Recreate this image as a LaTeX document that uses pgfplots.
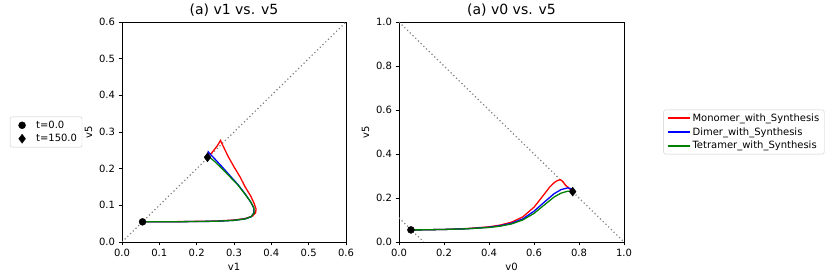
\documentclass[border=0pt]{standalone}
\usepackage{fontspec}
\setmainfont{DejaVu Sans}
\usepackage{pgfplots}
\pgfplotsset{compat=1.18}
\definecolor{mplgreen}{RGB}{0,128,0}
\pgfplotsset{
  myax/.style={
    scale only axis,
    axis line style={line width=0.8pt},
    tick align=outside, major tick length=3.5pt,
    tick style={line width=0.8pt, black},
    xtick pos=bottom, ytick pos=left,
    ticklabel style={font=\fontsize{10}{12}\selectfont},
    label style={font=\fontsize{10}{12}\selectfont},
    title style={font=\fontsize{14}{16}\selectfont, yshift=-4pt},
    /pgf/number format/assume math mode=true,
    /pgf/number format/.cd, fixed, fixed zerofill, precision=1, /pgfplots/.cd,
    legend style={draw=black!20, rounded corners=2pt, font=\fontsize{10}{12}\selectfont,
      inner xsep=3pt, inner ysep=2pt, row sep=0.5pt},
    legend cell align=left,
    clip=true,
  },
  dotl/.style={gray, line width=1.2pt, dash pattern=on 1.2pt off 2.6pt},
  crv/.style={line width=1.3pt, no marks,
    legend image code/.code={\draw[mark repeat=2,mark phase=2,##1, line width=1.9pt] plot coordinates {(0pt,0pt) (11pt,0pt) (22pt,0pt)};}},
  mk/.style={only marks, black,
    legend image code/.code={\path[draw=none,fill=none] (0pt,0pt) -- (21pt,0pt); \draw[##1] plot coordinates {(9pt,0pt)};}},
}
\begin{document}
\begin{tikzpicture}
\useasboundingbox (0,0) rectangle (832pt,280pt);
\begin{axis}[myax, at={(122pt,38pt)}, anchor=south west, width=224pt, height=220pt,
  xmin=0, xmax=0.6, ymin=0, ymax=0.6,
  xtick={0,0.1,...,0.61}, ytick={0,0.1,...,0.61},
  xlabel={v1}, ylabel={v5}, title={(a) v1 vs. v5},
  legend style={at={(-0.339,0.5)}, anchor=center},
]
\addplot[dotl, forget plot] coordinates {(0,0) (0.6,0.6)};
\addplot[crv, red, forget plot] coordinates {
(0.055,0.055) (0.15,0.0555) (0.25,0.057) (0.3,0.060) (0.33,0.064) (0.35,0.071)
(0.358,0.080) (0.359,0.090) (0.354,0.105) (0.345,0.125) (0.33,0.150) (0.316,0.178)
(0.30,0.205) (0.285,0.232) (0.274,0.255) (0.267,0.270) (0.264,0.277) (0.255,0.262)
(0.245,0.249) (0.235,0.237)};
\addplot[crv, blue, forget plot] coordinates {
(0.055,0.055) (0.15,0.0553) (0.25,0.0565) (0.30,0.059) (0.33,0.063) (0.346,0.069)
(0.353,0.079) (0.353,0.092) (0.346,0.107) (0.332,0.128) (0.312,0.155) (0.29,0.180)
(0.27,0.203) (0.25,0.225) (0.236,0.240) (0.231,0.246) (0.229,0.235)};
\addplot[crv, mplgreen, forget plot] coordinates {
(0.055,0.055) (0.15,0.0553) (0.25,0.0565) (0.30,0.059) (0.33,0.063) (0.346,0.069)
(0.354,0.080) (0.353,0.094) (0.345,0.109) (0.330,0.130) (0.310,0.156) (0.29,0.177)
(0.27,0.198) (0.25,0.218) (0.236,0.230) (0.229,0.231)};
\addplot[mk, mark=*, mark size=3.5pt] coordinates {(0.055,0.055)};
\addlegendentry{t=0.0}
\addplot[mk, mark=diamond*, mark size=4.5pt] coordinates {(0.229,0.231)};
\addlegendentry{t=150.0}
\end{axis}
\begin{axis}[myax, at={(399pt,38pt)}, anchor=south west, width=225pt, height=220pt,
  xmin=0, xmax=1, ymin=0, ymax=1,
  xtick={0,0.2,...,1.01}, ytick={0,0.2,...,1.01},
  xlabel={v0}, ylabel={v5}, title={(a) v0 vs. v5},
  legend style={at={(1.533,0.5)}, anchor=center},
]
\addplot[dotl, forget plot] coordinates {(0,1) (1,0)};
\addplot[dotl, forget plot] coordinates {(0,0.11) (0.11,0)};
\addplot[crv, red] coordinates {
(0.053,0.055) (0.1,0.0552) (0.2,0.057) (0.3,0.061) (0.4,0.069) (0.45,0.077) (0.5,0.090)
(0.55,0.114) (0.6,0.158) (0.64,0.210) (0.67,0.250) (0.69,0.270) (0.705,0.280) (0.718,0.283)
(0.728,0.275) (0.74,0.258) (0.755,0.245) (0.772,0.229)};
\addlegendentry{Monomer\_with\_Synthesis}
\addplot[crv, blue] coordinates {
(0.053,0.055) (0.1,0.0552) (0.2,0.057) (0.3,0.060) (0.4,0.067) (0.45,0.074) (0.5,0.085)
(0.55,0.105) (0.6,0.140) (0.65,0.185) (0.69,0.220) (0.72,0.238) (0.75,0.246) (0.762,0.243) (0.772,0.232)};
\addlegendentry{Dimer\_with\_Synthesis}
\addplot[crv, mplgreen] coordinates {
(0.053,0.055) (0.1,0.0552) (0.2,0.057) (0.3,0.060) (0.4,0.066) (0.45,0.072) (0.5,0.082)
(0.55,0.100) (0.6,0.130) (0.65,0.172) (0.69,0.205) (0.72,0.222) (0.75,0.231) (0.772,0.230)};
\addlegendentry{Tetramer\_with\_Synthesis}
\addplot[only marks, mark=*, mark size=3.5pt, black, forget plot] coordinates {(0.053,0.055)};
\addplot[only marks, mark=diamond*, mark size=4.5pt, black, forget plot] coordinates {(0.772,0.229)};
\end{axis}
\end{tikzpicture}
\end{document}
